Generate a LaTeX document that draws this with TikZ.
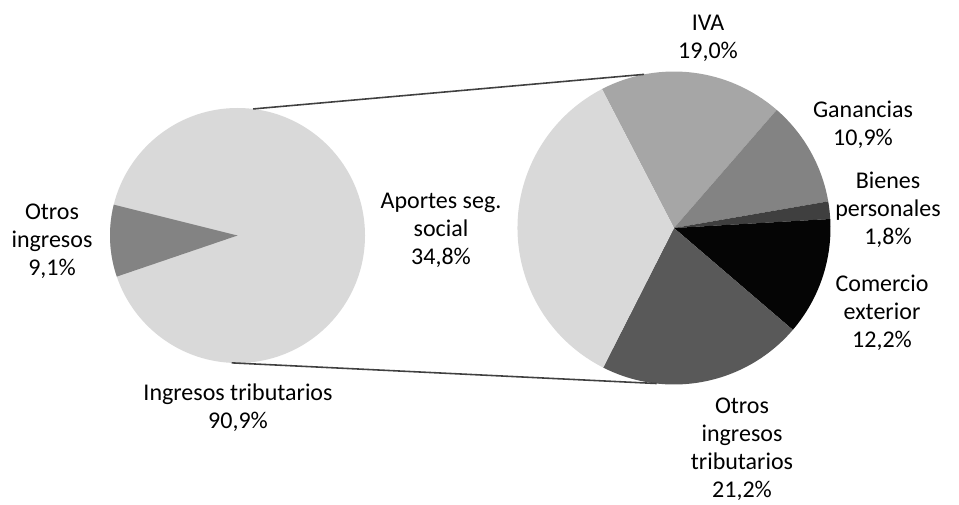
\documentclass[tikz,border=0pt]{standalone}
\usepackage{fontspec}
\setmainfont{Carlito}
\usepackage{tikz}

\definecolor{sliceA}{HTML}{D9D9D9}
\definecolor{sliceB}{HTML}{A6A6A6}
\definecolor{sliceC}{HTML}{838383}
\definecolor{sliceD}{HTML}{3F3F3F}
\definecolor{sliceE}{HTML}{050505}
\definecolor{sliceF}{HTML}{595959}
\definecolor{joinline}{HTML}{404040}

\tikzset{
  pielabel/.style={align=center, inner sep=0pt, font=\fontsize{13.66}{15.93}\selectfont},
  joiner/.style={draw=joinline, line width=0.9pt}
}

\begin{document}
\begin{tikzpicture}[x=0.02cm, y=0.02cm]
\useasboundingbox (0,0) rectangle (959,504);
\coordinate (lc) at (237.5,268.5);
\coordinate (rc) at (674,276);

% left pie
\fill[sliceA] (lc) circle[radius=127.5];
\fill[sliceC] (lc) -- +(166:127.5) arc[start angle=166, end angle=198.8, radius=127.5] -- cycle;

% right pie
\fill[sliceB] (rc) -- +(117.4:156.5) arc[start angle=117.4, end angle=49.0, radius=156.5] -- cycle;
\fill[sliceC] (rc) -- +(49.0:156.5) arc[start angle=49.0, end angle=9.8, radius=156.5] -- cycle;
\fill[sliceD] (rc) -- +(9.8:156.5) arc[start angle=9.8, end angle=3.3, radius=156.5] -- cycle;
\fill[sliceE] (rc) -- +(3.3:156.5) arc[start angle=3.3, end angle=-40.6, radius=156.5] -- cycle;
\fill[sliceF] (rc) -- +(-40.6:156.5) arc[start angle=-40.6, end angle=-116.9, radius=156.5] -- cycle;
\fill[sliceA] (rc) -- +(-116.9:156.5) arc[start angle=-116.9, end angle=-242.6, radius=156.5] -- cycle;

% connectors
\coordinate (ltop) at ([shift={(83:127.5)}]lc);
\coordinate (lbot) at ([shift={(267.4:127.5)}]lc);
\coordinate (rtop) at ([shift={(101:156.5)}]rc);
\coordinate (rbot) at ([shift={(263.6:156.5)}]rc);
\path[joiner] (ltop) -- (rtop);
\path[joiner] (lbot) -- (rbot);

% labels
\node[pielabel] (otros) at (52,263) {Otros\\ingresos\\9,1\%};
\node[pielabel] (ingtrib) at (238,96) {Ingresos tributarios\\90,9\%};
\node[pielabel] (aportes) at (441,274) {Aportes seg.\\social\\34,8\%};
\node[pielabel] (iva) at (708,466) {IVA\\19,0\%};
\node[pielabel] (ganancias) at (863,379) {Ganancias\\10,9\%};
\node[pielabel] (bienes) at (888,294) {Bienes\\personales\\1,8\%};
\node[pielabel] (comercio) at (882,191) {Comercio\\exterior\\12,2\%};
\node[pielabel] (otrostrib) at (742,55) {Otros\\ingresos\\tributarios\\21,2\%};
\end{tikzpicture}
\end{document}
